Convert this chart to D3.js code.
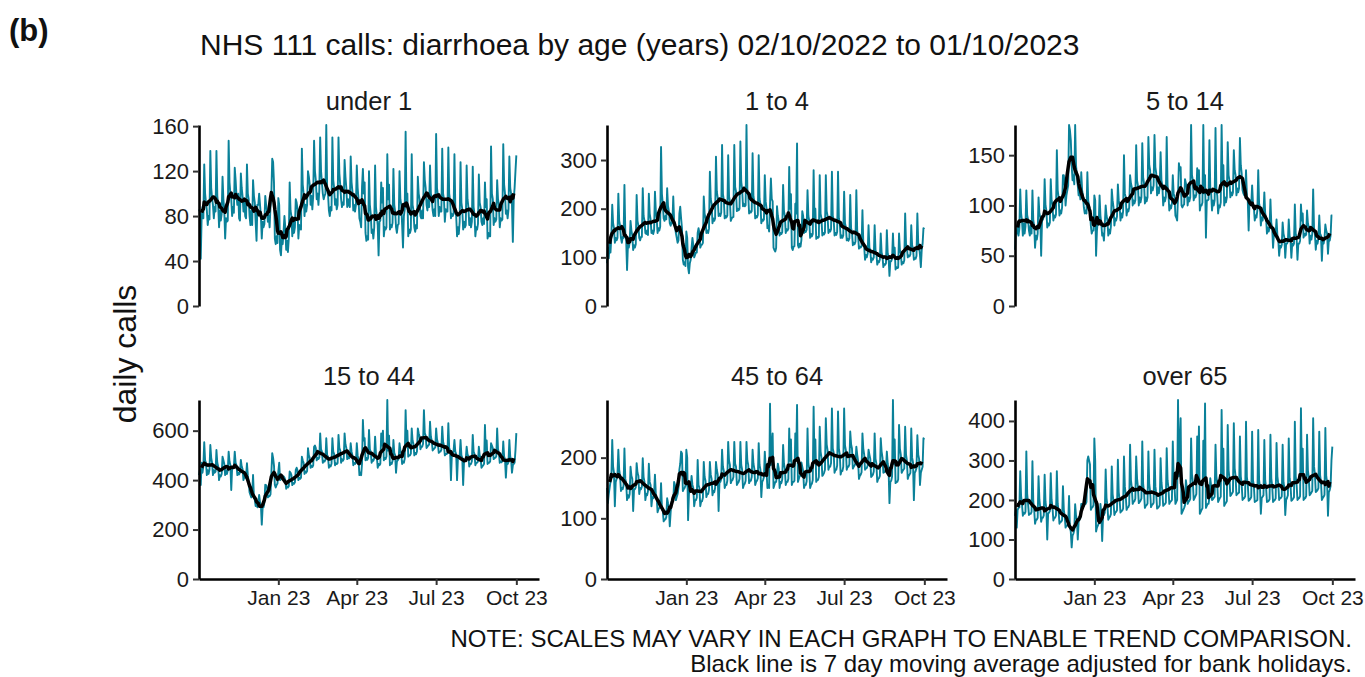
<!DOCTYPE html>
<html><head><meta charset="utf-8">
<script src="https://cdn.jsdelivr.net/npm/d3@7"></script>
<style>
body{margin:0;background:#fff;}
svg{display:block;}
text{font-family:"Liberation Sans",Arial,Helvetica,sans-serif;}
</style>
</head><body>
<svg id="chart" width="1365" height="677"></svg>
<script>
// ---------------- DATA ----------------
const panelTitles = ["under 1", "1 to 4", "5 to 14", "15 to 44", "45 to 64", "over 65"];
const firstDay = "2022-10-02";           // Sunday, first day of series
const xTickDates = ["2023-01-01", "2023-04-01", "2023-07-01", "2023-10-01"];
const xTickLabels = ["Jan 23", "Apr 23", "Jul 23", "Oct 23"];
const yTickValues = [
  [0, 40, 80, 120, 160],
  [0, 100, 200, 300],
  [0, 50, 100, 150],
  [0, 200, 400, 600],
  [0, 100, 200],
  [0, 100, 200, 300, 400]
];

// daily calls, one row per week (Sun..Sat), last value = Sun 01/10/2023
const callsUnder1 = [
86,84,42,78,88,78,126,
100,92,85,72,80,77,138,
105,96,90,78,88,84,138,
98,90,70,85,76,82,115,
95,85,60,78,75,76,147,
110,100,95,80,88,83,123,
112,98,90,100,78,76,118,
105,97,84,95,80,78,126,
100,95,80,72,85,72,112,
98,92,74,58,90,90,100,
90,80,60,75,70,73,98,
90,85,75,80,70,88,100,
131,128,110,60,55,62,56,
96,90,50,45,60,55,66,
80,70,50,58,48,60,110,
85,80,62,75,65,70,95,
92,86,60,72,70,68,140,
108,100,80,90,84,90,120,
115,108,90,98,86,98,147,
120,112,95,100,90,103,150,
120,110,100,95,98,100,161,
105,100,85,80,88,85,150,
112,105,90,95,86,90,150,
118,108,95,88,92,90,130,
115,105,88,95,90,88,133,
110,102,85,90,84,90,125,
105,95,78,75,70,106,122,
100,110,65,58,62,59,120,
90,82,65,68,60,70,125,
88,80,72,45,75,76,110,
92,105,62,70,68,70,135,
95,108,68,72,70,74,122,
90,84,70,65,72,73,120,
95,90,72,52,80,86,155,
90,100,62,68,65,68,135,
90,85,70,66,72,69,115,
100,95,80,78,85,78,128,
112,105,90,85,95,88,125,
100,95,85,80,86,80,153,
105,98,80,88,84,84,140,
100,95,75,86,84,84,141,
100,94,78,82,80,82,135,
88,80,62,70,64,75,128,
92,86,68,75,70,72,125,
95,88,72,78,70,75,124,
88,82,62,70,68,73,117,
92,88,75,72,78,73,110,
88,95,60,65,62,62,142,
100,95,72,78,75,77,112,
95,90,70,78,76,77,144,
108,100,82,85,78,86,133,
105,100,90,57,95,105,120,
134];

const calls1to4 = [
88,120,98,130,110,142,208,
170,160,130,140,135,140,231,
175,165,140,130,142,140,249,
150,135,74,125,120,131,175,
155,145,115,125,120,127,228,
175,165,140,135,142,142,242,
185,175,150,148,155,146,231,
190,178,150,155,148,155,235,
195,180,150,160,155,163,327,
230,210,180,175,185,178,242,
205,195,170,165,172,170,225,
175,165,150,140,130,135,190,
204,180,160,95,85,90,82,
153,140,80,67,88,95,119,
140,125,100,105,110,110,150,
160,150,120,125,126,130,225,
190,180,150,155,150,159,276,
220,210,170,180,175,180,307,
235,222,185,190,185,192,331,
230,218,180,185,182,186,310,
225,215,175,180,182,183,331,
245,235,195,200,197,200,338,
255,240,205,210,205,207,372,
240,228,190,195,192,195,314,
225,215,180,185,182,187,310,
220,210,170,178,175,178,269,
215,200,160,165,153,210,262,
220,215,120,115,112,119,205,
185,175,145,150,148,152,249,
195,185,150,158,155,159,286,
200,230,120,115,122,123,210,
190,334,125,120,128,122,136,
195,185,150,155,152,157,238,
185,175,140,148,143,148,279,
180,200,138,142,140,142,269,
190,180,145,150,147,151,269,
195,185,150,157,153,158,276,
185,178,145,150,146,152,276,
180,170,140,145,140,145,235,
170,162,135,138,134,139,228,
160,152,125,130,127,132,238,
155,145,118,122,120,123,197,
130,122,95,105,100,108,166,
120,115,90,98,95,100,166,
115,108,85,92,90,96,149,
110,102,80,86,85,88,156,
108,100,62,92,92,97,149,
105,120,75,80,78,79,149,
115,108,85,90,88,94,190,
128,120,100,104,102,106,166,
125,118,95,98,97,103,190,
130,122,105,80,115,128,160,
158];

const calls5to14 = [
56,75,72,80,70,77,116,
92,85,70,82,72,79,115,
90,86,75,70,80,72,115,
85,80,58,70,66,72,108,
92,88,50,85,86,89,126,
100,95,78,82,80,83,126,
105,100,85,90,88,91,155,
115,108,90,95,92,98,130,
130,120,100,110,115,120,180,
175,165,140,125,130,121,180,
140,130,120,110,115,106,133,
115,110,98,92,95,92,133,
105,100,95,80,72,75,75,
110,105,50,75,85,81,110,
90,82,70,72,65,81,100,
90,85,70,76,72,79,116,
105,98,80,87,85,89,121,
105,100,85,92,88,94,150,
112,108,90,96,94,98,130,
122,118,100,105,102,105,160,
125,120,100,108,103,108,162,
128,122,102,108,104,108,168,
140,135,112,118,115,120,170,
138,132,110,118,112,119,153,
125,120,100,108,104,108,168,
120,112,95,100,97,102,130,
112,108,90,88,85,110,142,
135,138,100,98,100,101,126,
122,118,100,108,104,108,180,
130,125,105,110,108,111,137,
120,135,95,100,100,103,180,
112,130,68,105,105,106,165,
118,112,95,105,100,105,177,
115,110,92,100,98,103,180,
125,140,100,108,103,108,163,
130,125,108,113,110,113,155,
135,130,110,117,113,117,167,
140,132,115,112,110,110,135,
110,105,75,105,105,101,120,
102,98,85,90,88,95,135,
102,98,80,88,85,92,113,
92,88,72,78,74,78,106,
82,78,58,72,70,72,86,
70,66,50,60,58,61,83,
72,68,48,62,62,64,86,
70,66,48,62,60,62,101,
72,68,46,62,62,65,101,
85,92,68,72,70,71,95,
82,78,62,70,66,72,116,
78,72,56,65,62,67,90,
72,70,45,65,62,67,81,
75,72,52,66,65,70,90,
90];

const calls15to44 = [
420,440,380,470,430,457,553,
480,470,420,440,425,443,542,
490,470,420,440,430,434,522,
470,455,400,420,415,425,495,
480,465,420,440,425,440,515,
475,460,360,450,450,454,515,
470,460,420,430,423,430,482,
455,445,400,415,410,417,468,
420,390,350,340,330,339,421,
330,320,295,300,290,309,340,
310,300,220,290,290,309,381,
380,370,330,335,335,342,428,
509,490,460,380,370,380,386,
435,470,400,405,410,405,415,
410,400,365,375,370,375,435,
430,420,380,388,385,391,441,
450,440,400,410,405,410,495,
480,470,425,435,430,437,529,
500,490,450,458,453,460,535,
540,530,480,490,485,491,589,
525,515,470,478,475,482,569,
500,495,450,460,455,466,569,
515,505,460,468,465,469,583,
530,520,470,485,478,484,589,
545,530,485,495,488,492,549,
515,500,460,470,465,471,549,
500,480,420,430,420,467,643,
560,570,480,490,482,490,603,
525,515,470,482,478,489,576,
505,495,450,465,460,466,589,
540,600,480,490,485,496,724,
520,580,460,470,465,478,562,
510,500,430,475,480,486,549,
520,505,465,475,470,487,683,
555,600,495,500,500,507,609,
560,545,500,510,505,516,609,
590,575,525,535,535,547,683,
590,580,530,535,540,544,636,
575,560,520,525,528,533,609,
565,550,510,515,515,523,616,
555,540,500,505,505,510,630,
530,520,400,500,505,518,562,
515,505,400,490,495,498,562,
500,490,380,475,480,486,535,
505,495,455,465,465,476,583,
515,505,460,470,470,475,535,
500,490,450,455,460,466,623,
510,560,465,470,470,476,549,
540,530,485,490,490,496,609,
525,510,470,475,472,478,556,
495,485,410,470,465,473,562,
495,485,430,460,465,470,520,
590];

const calls45to64 = [
150,125,140,150,160,166,229,
185,175,120,160,165,172,213,
180,170,145,150,148,154,215,
165,158,130,138,134,140,185,
170,165,112,148,148,151,191,
175,170,140,150,148,152,199,
168,160,130,140,138,145,190,
160,155,120,135,133,140,172,
140,135,110,115,117,121,158,
118,112,95,98,98,102,133,
125,118,87,110,125,133,128,
160,155,130,135,140,150,180,
190,210,207,145,148,150,154,
213,200,97,140,150,150,170,
155,150,120,130,130,134,196,
155,150,120,128,128,134,193,
168,162,135,140,140,147,193,
172,165,138,145,143,150,193,
180,172,112,160,160,165,213,
185,178,150,155,155,162,226,
195,188,158,162,163,168,226,
190,185,155,158,160,165,226,
188,180,150,155,157,162,226,
195,188,158,162,162,168,213,
190,182,155,160,162,166,224,
188,180,135,160,163,168,210,
185,178,150,155,150,289,188,
220,240,150,155,160,160,175,
190,182,150,160,158,164,221,
190,182,155,160,160,165,248,
195,230,155,160,160,162,240,
200,287,160,165,170,170,192,
185,178,150,155,155,161,248,
190,182,150,155,157,163,284,
195,230,160,163,163,168,251,
210,200,170,172,175,180,265,
222,212,180,185,185,191,281,
215,208,175,180,180,187,276,
215,205,172,178,178,185,281,
220,212,180,185,185,189,243,
222,215,182,185,187,191,218,
205,195,165,170,172,176,240,
215,205,180,182,183,187,213,
205,198,168,170,172,177,240,
198,190,160,165,166,170,232,
210,200,175,176,178,181,210,
190,180,125,160,162,169,295,
190,230,158,160,160,164,254,
215,205,175,178,180,182,251,
205,195,165,170,172,175,248,
200,192,130,175,178,183,237,
205,198,155,175,180,185,232,
230];

const callsOver65 = [
160,175,130,175,180,181,273,
210,190,160,168,165,170,323,
215,190,162,165,165,170,298,
195,175,140,150,150,155,260,
200,180,145,155,155,161,264,
195,178,100,165,168,172,268,
200,182,148,155,155,161,273,
190,172,140,145,145,149,235,
175,160,130,135,135,140,210,
130,120,80,110,115,124,189,
160,150,100,145,150,155,190,
190,185,185,190,190,195,300,
310,300,290,175,180,182,187,
356,300,120,130,135,140,149,
190,165,96,160,162,168,277,
205,185,150,155,158,164,285,
215,195,162,168,170,174,302,
220,200,168,172,173,178,310,
235,212,175,180,182,188,340,
250,230,190,195,197,203,310,
255,232,192,195,198,204,348,
240,220,180,185,187,191,323,
240,222,182,187,189,193,327,
235,215,178,180,183,187,306,
245,222,185,188,190,193,331,
250,230,190,195,197,200,348,
255,232,190,195,200,453,260,
340,407,165,170,175,180,187,
250,232,190,195,198,203,356,
265,245,200,205,210,215,361,
255,386,165,170,175,179,350,
250,444,180,185,190,190,206,
255,235,200,202,205,208,340,
260,240,195,200,205,208,428,
265,330,185,190,193,197,390,
275,255,210,213,217,221,394,
280,260,212,215,217,219,361,
260,240,200,203,205,209,398,
258,240,198,200,203,208,373,
250,235,195,197,198,200,377,
250,232,165,205,208,212,352,
250,232,195,196,198,202,365,
255,235,195,198,200,204,344,
260,240,200,205,205,209,340,
245,230,162,200,205,212,356,
255,240,198,200,203,207,398,
260,240,200,203,205,210,432,
265,330,200,203,205,210,365,
275,255,212,215,219,223,407,
285,265,220,222,225,230,373,
262,245,200,205,208,213,382,
260,245,160,220,225,235,300,
335];

const seriesList = [callsUnder1, calls1to4, calls5to14, calls15to44, calls45to64, callsOver65];

// ---------------- LAYOUT ----------------
const W = 1365, H = 677;
const colX = [199, 607, 1015];
const panelW = 340;
const rowTop = [125, 400];
const rowBottom = [306, 579];
const teal = "#0a8199";

const svg = d3.select("#chart");
svg.append("rect").attr("width", W).attr("height", H).attr("fill", "#fff");

const parse = d3.utcParse("%Y-%m-%d");
const start = parse(firstDay);
const dayMs = 864e5;
const x = d3.scaleUtc()
  .domain([start, parse("2023-10-27")])
  .range([0, panelW]);

// centred 7-day moving average (full windows only)
function movingAvg(vals) {
  const out = [];
  for (let i = 3; i <= vals.length - 4; i++) {
    let s = 0;
    for (let k = i - 3; k <= i + 3; k++) s += vals[k];
    out.push({ i, v: s / 7 });
  }
  return out;
}

seriesList.forEach((vals, p) => {
  const col = p % 3, row = Math.floor(p / 3);
  const g = svg.append("g").attr("transform", `translate(${colX[col]},0)`);
  const data = vals.map((v, i) => ({ date: new Date(start.getTime() + i * dayMs), v }));
  const y = d3.scaleLinear()
    .domain([0, d3.max(vals)])
    .range([rowBottom[row], rowTop[row]]);

  // strip title
  g.append("text")
    .attr("x", panelW / 2)
    .attr("y", row === 0 ? 110 : 385)
    .attr("text-anchor", "middle")
    .attr("font-size", 25.5)
    .attr("fill", "#1a1a1a")
    .text(panelTitles[p]);

  // daily line
  g.append("path")
    .datum(data)
    .attr("fill", "none")
    .attr("stroke", teal)
    .attr("stroke-width", 1.9)
    .attr("stroke-linejoin", "round")
    .attr("d", d3.line().x(d => x(d.date)).y(d => y(d.v)));

  // 7-day moving average
  const ma = movingAvg(vals).map(o => ({ date: data[o.i].date, v: o.v }));
  g.append("path")
    .datum(ma)
    .attr("fill", "none")
    .attr("stroke", "#000")
    .attr("stroke-width", 3.5)
    .attr("stroke-linejoin", "round")
    .attr("d", d3.line().x(d => x(d.date)).y(d => y(d.v)));

  // y axis
  const ya = g.append("g")
    .call(d3.axisLeft(y).tickValues(yTickValues[p]).tickSize(6).tickSizeOuter(0).tickPadding(4));
  ya.select(".domain").attr("stroke", "#000").attr("stroke-width", 2.6);
  ya.selectAll(".tick line").attr("stroke", "#333").attr("stroke-width", 2);
  ya.selectAll(".tick text").attr("font-size", 22).attr("fill", "#1a1a1a")
    .attr("font-family", "Liberation Sans, Arial, sans-serif");

  // x axis (bottom row only)
  if (row === 1) {
    const xa = g.append("g")
      .attr("transform", `translate(0,${rowBottom[row]})`)
      .call(d3.axisBottom(x)
        .tickValues(xTickDates.map(parse))
        .tickFormat((d, i) => xTickLabels[i])
        .tickSize(6).tickSizeOuter(0).tickPadding(5));
    xa.select(".domain").attr("stroke", "#000").attr("stroke-width", 2.6);
    xa.selectAll(".tick line").attr("stroke", "#333").attr("stroke-width", 2);
    xa.selectAll(".tick text").attr("font-size", 21).attr("fill", "#1a1a1a")
      .attr("font-family", "Liberation Sans, Arial, sans-serif");
  }
});

// titles and notes
svg.append("text").attr("x", 9).attr("y", 41)
  .attr("font-size", 31).attr("font-weight", "bold").attr("fill", "#111").text("(b)");
svg.append("text").attr("x", 200).attr("y", 55)
  .attr("font-size", 30).attr("fill", "#111")
  .text("NHS 111 calls: diarrhoea by age (years) 02/10/2022 to 01/10/2023");
svg.append("text")
  .attr("transform", "translate(136,354) rotate(-90)")
  .attr("text-anchor", "middle")
  .attr("font-size", 32).attr("fill", "#111").text("daily calls");
svg.append("text").attr("x", 1352).attr("y", 647).attr("text-anchor", "end")
  .attr("font-size", 24).attr("fill", "#111")
  .text("NOTE: SCALES MAY VARY IN EACH GRAPH TO ENABLE TREND COMPARISON.");
svg.append("text").attr("x", 1352).attr("y", 672).attr("text-anchor", "end")
  .attr("font-size", 24).attr("fill", "#111")
  .text("Black line is 7 day moving average adjusted for bank holidays.");
</script>
</body></html>
